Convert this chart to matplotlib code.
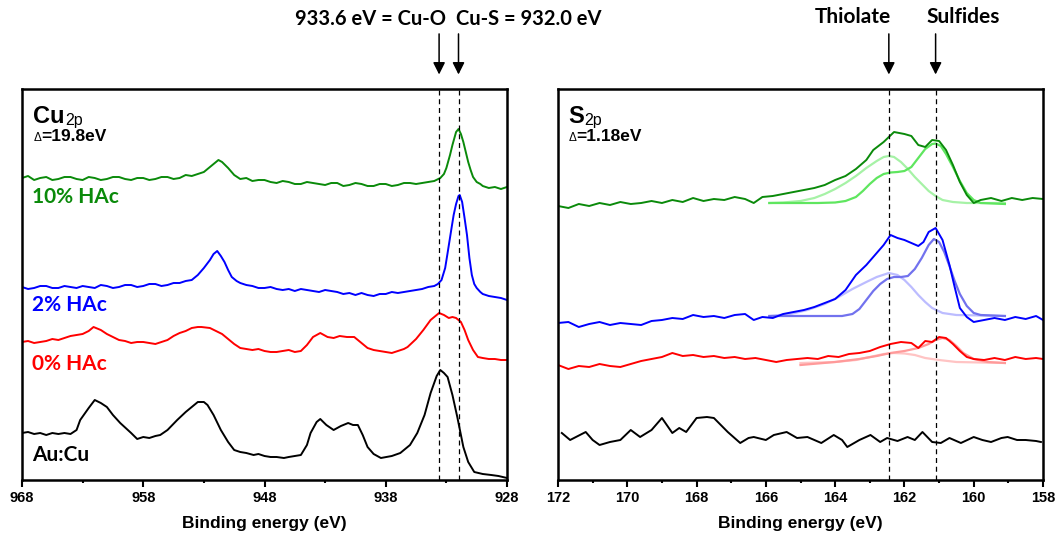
import matplotlib.pyplot as plt
from matplotlib.ticker import FixedLocator
import numpy as np

# ---- Cu 2p spectra (binding energy in eV, intensity in arb. units) ----
cu_e_10 = [968, 967.5, 967, 966.5, 966, 965.5, 965, 964.5, 964, 963.5, 963, 962.5, 962, 961.5, 961, 960.5, 960,
           959.5, 959, 958.5, 958, 957.5, 957, 956.5, 956, 955.5, 955, 954.5, 954, 953.5, 953, 952.5, 952, 951.8,
           951.5, 951, 950.5, 950, 949.5, 949, 948.5, 948, 947.5, 947, 946.5, 946, 945.5, 945, 944.5, 944, 943.5,
           943, 942.5, 942, 941.5, 941, 940.5, 940, 939.5, 939, 938.5, 938, 937.5, 937, 936.5, 936, 935.5, 935,
           934.5, 934, 933.5, 933.2, 933, 932.7, 932.5, 932.2, 932.0, 931.8, 931.6, 931.4, 931.2, 931, 930.8,
           930.5, 930.2, 930, 929.5, 929, 928.5, 928]
cu_i_10 = [302, 304, 300, 302, 303, 300, 301, 303, 303, 301, 300, 303, 302, 300, 301, 303, 303,
           301, 300, 302, 302, 300, 301, 303, 303, 301, 302, 305, 304, 306, 308, 313, 318, 320,
           318, 312, 305, 301, 302, 299, 300, 300, 298, 297, 299, 298, 296, 296, 298, 297, 296,
           295, 297, 297, 294, 295, 297, 296, 294, 294, 296, 296, 294, 295, 297, 297, 296, 297,
           298, 299, 302, 306, 312, 325, 335, 348, 351, 346, 338, 328, 318, 310, 303,
           298, 296, 294, 292, 293, 291, 293]

cu_e_2 = [968, 967.5, 967, 966.5, 966, 965.5, 965, 964.5, 964, 963.5, 963, 962.5, 962, 961.5, 961, 960.5, 960,
          959.5, 959, 958.5, 958, 957.5, 957, 956.5, 956, 955.5, 955, 954.5, 954, 953.5, 953, 952.5, 952.2, 951.9,
          951.6, 951.3, 951, 950.7, 950.3, 950, 949.5, 949, 948.5, 948, 947.5, 947, 946.5, 946, 945.5, 945, 944.5,
          944, 943.5, 943, 942.5, 942, 941.5, 941, 940.5, 940, 939.5, 939, 938.5, 938, 937.5, 937, 936.5, 936,
          935.5, 935, 934.5, 934, 933.7, 933.4, 933.1, 932.9, 932.6, 932.4, 932.2, 932.0, 931.9, 931.7, 931.5,
          931.3, 931.1, 930.9, 930.7, 930.5, 930.2, 930, 929.5, 929, 928.5, 928]
cu_i_2 = [193, 191, 192, 194, 194, 192, 192, 194, 193, 192, 194, 193, 192, 195, 194, 192, 193,
          195, 195, 193, 194, 196, 196, 194, 195, 197, 197, 199, 200, 205, 212, 220, 226, 229,
          224, 218, 210, 203, 199, 197, 195, 194, 192, 192, 193, 191, 190, 191, 189, 191, 190,
          189, 188, 190, 189, 188, 186, 187, 185, 187, 185, 184, 186, 186, 188, 187, 188, 189,
          190, 191, 193, 194, 196, 200, 212, 227, 250, 265, 276, 284, 285, 278, 262,
          245, 222, 205, 196, 192, 188, 186, 184, 183, 182, 180]

cu_e_0 = [968, 967.5, 967, 966.5, 966, 965.5, 965, 964.5, 964, 963.5, 963, 962.5, 962.1, 961.5, 961, 960.5, 960,
          959.5, 959, 958.5, 958, 957.5, 957, 956.5, 956, 955.5, 955, 954.5, 954, 953.5, 953.2, 952.5, 952, 951.5,
          951.1, 950.5, 950, 949.5, 949, 948.5, 948, 947.5, 947, 946.5, 946, 945.5, 945, 944.5, 944, 943.4, 942.8,
          942.3, 941.8, 941.2, 940.6, 940.1, 939.5, 939, 938.5, 938, 937.5, 937, 936.5, 936.2, 935.5, 934.9, 934.3,
          933.6, 933.2, 932.8, 932.5, 932.2, 931.8, 931.5, 931.2, 930.8, 930.4, 930, 929.5, 929, 928.5, 928]
cu_i_0 = [138, 139, 137, 138, 139, 141, 140, 142, 144, 145, 146, 149, 153, 150, 146, 143, 140,
          139, 137, 138, 138, 137, 136, 138, 140, 144, 147, 149, 152, 153, 153, 152, 149, 146,
          142, 136, 132, 131, 130, 131, 129, 128, 128, 129, 130, 128, 129, 135, 143, 147, 143,
          142, 144, 143, 143, 138, 132, 130, 129, 128, 127, 129, 131, 133, 141, 150, 160,
          167, 165, 162, 163, 162, 158, 150, 140, 130, 123, 122, 121, 121, 120, 120]

cu_e_au = [968, 967.5, 967, 966.5, 966, 965.5, 965, 964.5, 964, 963.5, 963.2, 962.5, 962, 961.5, 961, 960.5, 959.9,
           959, 958.5, 958, 957.5, 957, 956.6, 956, 955.2, 954.5, 953.5, 953, 952.7, 952.2, 951.6, 951, 950.5,
           950, 949.5, 948.9, 948.5, 948, 947.5, 947, 946.4, 946, 945.5, 945, 944.5, 944.2, 943.7, 943.4, 942.9,
           942.3, 941.7, 941.1, 940.7, 940.3, 939.9, 939.5, 939, 938.4, 937.5, 936.8, 936, 935.4, 934.8, 934.3,
           933.8, 933.5, 933.2, 932.9, 932.5, 932.1, 931.6, 931.2, 930.7, 930, 929.3, 928.7, 928]
cu_i_au = [47, 48, 46, 47, 45, 47, 46, 47, 46, 50, 60, 72, 80, 77, 73, 65, 57,
           47, 41, 43, 42, 44, 45, 50, 60, 68, 78, 78, 75, 65, 50, 38, 30,
           28, 27, 25, 26, 24, 23, 23, 22, 23, 24, 25, 35, 47, 58, 61, 55,
           50, 54, 57, 55, 55, 45, 33, 26, 22, 24, 27, 35, 47, 65, 87,
           104, 110, 107, 103, 85, 63, 33, 18, 8, 6, 5, 4, 2]

# ---- S 2p spectra ----
s_e_10 = [172.0, 171.7, 171.4, 171.1, 170.8, 170.5, 170.2, 169.9, 169.6, 169.3, 169.0, 168.7, 168.4, 168.1, 167.8,
          167.5, 167.2, 166.9, 166.6, 166.35, 166.1, 165.8, 165.5, 165.2, 164.9, 164.6, 164.3, 164.0, 163.7, 163.4,
          163.1, 162.9, 162.6, 162.3, 162.0, 161.8, 161.6, 161.4, 161.2, 161.0, 160.8, 160.6, 160.4, 160.2, 160.0,
          159.8, 159.5, 159.2, 158.9, 158.6, 158.3, 158.0]
s_i_10 = [274, 272, 276, 274, 277, 275, 278, 276, 277, 279, 277, 280, 278, 282, 279,
          281, 280, 283, 281, 277, 283, 284, 286, 288, 290, 292, 295, 300, 304, 311,
          320, 330, 338, 348, 346, 344, 335, 333, 340, 339, 330, 315, 298, 285, 277,
          280, 282, 279, 282, 280, 282, 281]

s_e_2 = [172.0, 171.7, 171.4, 171.1, 170.8, 170.5, 170.2, 169.9, 169.6, 169.3, 169.0, 168.7, 168.4, 168.1, 167.8,
         167.5, 167.2, 166.9, 166.6, 166.35, 166.1, 165.8, 165.5, 165.2, 164.9, 164.6, 164.3, 164.0, 163.7, 163.4,
         163.1, 162.85, 162.6, 162.4, 162.2, 162.0, 161.8, 161.6, 161.45, 161.3, 161.1, 160.9, 160.7, 160.55, 160.4,
         160.2, 160.0, 159.7, 159.4, 159.1, 158.8, 158.5, 158.2, 158.0]
s_i_2 = [157, 158, 153, 156, 158, 155, 157, 156, 155, 159, 160, 162, 161, 165, 163,
         164, 162, 165, 166, 160, 163, 162, 166, 168, 170, 173, 177, 181, 190, 205,
         215, 225, 235, 245, 242, 240, 237, 234, 238, 248, 252, 240, 215, 193, 172,
         163, 158, 160, 162, 160, 163, 161, 164, 160]

s_e_0 = [172.0, 171.7, 171.4, 171.1, 170.8, 170.5, 170.2, 169.9, 169.6, 169.3, 169.0, 168.7, 168.4, 168.1, 167.8,
         167.5, 167.2, 166.9, 166.6, 166.3, 166.0, 165.7, 165.4, 165.1, 164.8, 164.5, 164.2, 163.9, 163.6, 163.3,
         163.0, 162.7, 162.4, 162.1, 161.8, 161.6, 161.4, 161.2, 161.0, 160.8, 160.6, 160.4, 160.2, 160.0, 159.7,
         159.4, 159.1, 158.8, 158.5, 158.2, 158.0]
s_i_0 = [115, 111, 114, 113, 116, 114, 113, 116, 119, 121, 123, 127, 124, 125, 123,
         124, 122, 123, 121, 122, 120, 118, 120, 121, 122, 121, 124, 123, 126, 127,
         129, 133, 136, 138, 137, 132, 139, 138, 143, 142, 136, 129, 123, 121, 120,
         122, 120, 123, 121, 122, 121]

s_e_au = [171.89, 171.65, 171.2, 171.0, 170.8, 170.5, 170.2, 169.9, 169.63, 169.3, 169.0, 168.7, 168.5, 168.3, 168.0,
          167.7, 167.5, 167.3, 167.1, 166.74, 166.5, 166.35, 166.0, 165.77, 165.4, 165.1, 164.8, 164.4, 164.04,
          163.8, 163.65, 163.3, 162.98, 162.7, 162.5, 162.2, 161.91, 161.7, 161.48, 161.2, 160.95, 160.7, 160.37,
          160.0, 159.75, 159.5, 159.2, 159.02, 158.75, 158.5, 158.2, 158.06]
s_i_au = [47, 40, 48, 40, 35, 38, 40, 50, 43, 50, 62, 47, 52, 48, 62,
          63, 62, 55, 48, 37, 42, 43, 40, 45, 48, 42, 43, 37, 45,
          40, 33, 40, 45, 38, 42, 39, 43, 40, 48, 38, 37, 42, 37,
          43, 40, 38, 42, 43, 40, 40, 39, 38]

# fitted components (A = thiolate, B = sulfide)
fit_e_10a = [165.9, 165.5, 165.0, 164.6, 164.3, 164.0, 163.7, 163.4, 163.1, 162.8, 162.6, 162.45, 162.3, 162.1,
             161.9, 161.7, 161.5, 161.3, 161.1, 160.9, 160.6, 160.2, 159.1]
fit_i_10a = [277, 277.5, 279, 282, 286, 291, 297, 304, 312, 319, 323, 324, 323, 318,
             311, 303, 296, 289, 284, 280, 278, 277, 277]
fit_e_10b = [165.9, 164.5, 164.0, 163.7, 163.4, 163.2, 163.0, 162.8, 162.6, 162.4, 162.2, 162.0, 161.8, 161.6,
             161.4, 161.2, 161.1, 160.95, 160.8, 160.6, 160.4, 160.2, 160.0, 159.8, 159.1]
fit_i_10b = [277, 277, 277.5, 279, 283, 289, 296, 302, 306, 307.5, 308, 309, 313, 322,
             331, 336, 336.5, 334, 326, 313, 299, 287, 280, 277, 276]

fit_e_2a = [165.9, 165.3, 164.8, 164.3, 163.9, 163.5, 163.1, 162.8, 162.45, 162.2, 162.0, 161.8, 161.6, 161.4,
            161.2, 160.9, 160.5, 159.1]
fit_i_2a = [164, 166, 170, 176, 183, 191, 198, 203, 207, 205, 200, 193, 185, 178,
            172, 167, 165, 164]
fit_e_2b = [165.9, 163.8, 163.5, 163.3, 163.1, 162.9, 162.7, 162.5, 162.3, 162.1, 161.9, 161.7, 161.5, 161.3,
            161.15, 161.0, 160.85, 160.7, 160.55, 160.4, 160.2, 160.0, 159.8, 159.1]
fit_i_2b = [164, 164, 166, 171, 180, 189, 196, 201, 203, 203, 204, 211, 222, 235,
            241, 238, 228, 214, 199, 186, 174, 167, 165, 164]

fit_e_0a = [165.0, 164.0, 163.4, 163.0, 162.6, 162.3, 162.0, 161.7, 161.4, 161.0, 160.5, 159.1]
fit_i_0a = [117, 118, 120, 123, 126, 127, 126.5, 125, 122, 120, 118, 117]
fit_e_0b = [165.0, 164.0, 163.3, 162.8, 162.4, 162.0, 161.6, 161.3, 161.1, 160.9, 160.7, 160.5, 160.3, 160.0,
            159.6, 159.1]
fit_i_0b = [115, 118, 121, 124, 127, 129, 132, 136, 140, 142, 140, 134, 127, 121,
            118, 117]

cu_marks = [933.6, 932.0]
s_marks = [162.45, 161.1]

cu_ticks = [968, 958, 948, 938, 928]
cu_minor = [963, 953, 943, 933]
s_ticks = [172, 170, 168, 166, 164, 162, 160, 158]
s_minor = [171, 169, 167, 165, 163, 161, 159]

sample_labels = ["10% HAc", "2% HAc", "0% HAc", "Au:Cu"]
sample_colors = ["#0a8a0a", "#0000ff", "#ff0000", "black"]
label_y = [283, 175, 116, 25]

arial = "Liberation Sans"
calib = "Lato"

fig = plt.figure(figsize=(10.55, 5.4), dpi=100)
ax1 = fig.add_axes([22 / 1055, 60 / 540, 485 / 1055, 391 / 540])
ax2 = fig.add_axes([558 / 1055, 60 / 540, 485 / 1055, 391 / 540])

lw = 1.4
ax1.plot(cu_e_10, cu_i_10, color=sample_colors[0], lw=lw)
ax1.plot(cu_e_2, cu_i_2, color=sample_colors[1], lw=lw)
ax1.plot(cu_e_0, cu_i_0, color=sample_colors[2], lw=lw)
ax1.plot(cu_e_au, cu_i_au, color=sample_colors[3], lw=lw)

ax2.plot(fit_e_10a, fit_i_10a, color="#a6f2a6", lw=1.6)
ax2.plot(fit_e_10b, fit_i_10b, color="#5fe65f", lw=1.6)
ax2.plot(fit_e_2a, fit_i_2a, color="#bcbcff", lw=1.6)
ax2.plot(fit_e_2b, fit_i_2b, color="#7272ee", lw=1.6)
ax2.plot(fit_e_0a, fit_i_0a, color="#ffc4c4", lw=1.6)
ax2.plot(fit_e_0b, fit_i_0b, color="#ff9a9a", lw=1.6)
ax2.plot(s_e_10, s_i_10, color=sample_colors[0], lw=lw)
ax2.plot(s_e_2, s_i_2, color=sample_colors[1], lw=lw)
ax2.plot(s_e_0, s_i_0, color=sample_colors[2], lw=lw)
ax2.plot(s_e_au, s_i_au, color=sample_colors[3], lw=lw)

for ax, lim, ticks, minor, marks in [(ax1, (968, 928), cu_ticks, cu_minor, cu_marks),
                                     (ax2, (172, 158), s_ticks, s_minor, s_marks)]:
    ax.set_xlim(*lim)
    ax.set_ylim(0, 391)
    ax.set_yticks([])
    ax.xaxis.set_major_locator(FixedLocator(ticks))
    ax.xaxis.set_minor_locator(FixedLocator(minor))
    ax.tick_params(axis="x", which="major", direction="out", length=5, width=1.5, pad=3)
    ax.tick_params(axis="x", which="minor", direction="out", length=2.5, width=1.5)
    for lab in ax.get_xticklabels():
        lab.set_fontfamily(arial)
        lab.set_fontweight("bold")
        lab.set_fontsize(10.5)
    for sp in ax.spines.values():
        sp.set_linewidth(1.8)
    ax.set_xlabel("Binding energy (eV)", fontfamily=arial, fontweight="bold", fontsize=12.5, labelpad=8)
    for m in marks:
        ax.axvline(m, color="black", lw=0.9, linestyle=(0, (4, 3)))
        ax.annotate("", xy=(m, 1.03), xycoords=("data", "axes fraction"),
                    xytext=(m, 1.148), textcoords=("data", "axes fraction"),
                    arrowprops=dict(arrowstyle="-|>", color="black", lw=1.1, mutation_scale=18),
                    annotation_clip=False)

# sample labels on Cu panel
for name, col, y in zip(sample_labels, sample_colors, label_y):
    ax1.text(0.021, y, name, color=col, transform=ax1.get_yaxis_transform(),
             fontfamily=calib, fontweight="bold", fontsize=15, va="center", ha="left")

# panel titles
for ax, big, delta, x0 in [(ax1, "Cu", "19.8eV", 0.023), (ax2, "S", "1.18eV", 0.021)]:
    t = ax.text(x0, 0.913, big, transform=ax.transAxes, fontfamily=arial, fontweight="bold",
                fontsize=17, va="baseline")
    ax.annotate("2p", xy=(1, 0), xycoords=t, xytext=(0.5, 0), textcoords="offset points",
                fontfamily=arial, fontsize=11.5, va="bottom", ha="left")
    d = ax.text(x0, 0.866, "\u0394", transform=ax.transAxes, fontfamily=arial, fontsize=8.5, va="baseline")
    ax.annotate("=" + delta, xy=(1, 0), xycoords=d, xytext=(0, 0), textcoords="offset points",
                fontfamily=arial, fontweight="bold", fontsize=12.5, va="bottom", ha="left")

# annotations above the panels
ax1.text(933.05, 1.178, "933.6 eV = Cu-O", transform=ax1.get_xaxis_transform(), ha="right", va="center",
         fontfamily=calib, fontweight="bold", fontsize=14.5)
ax1.text(932.2, 1.178, "Cu-S = 932.0 eV", transform=ax1.get_xaxis_transform(), ha="left", va="center",
         fontfamily=calib, fontweight="bold", fontsize=14.5)
ax2.text(163.5, 1.185, "Thiolate", transform=ax2.get_xaxis_transform(), ha="center", va="center",
         fontfamily=calib, fontweight="bold", fontsize=15)
ax2.text(160.3, 1.185, "Sulfides", transform=ax2.get_xaxis_transform(), ha="center", va="center",
         fontfamily=calib, fontweight="bold", fontsize=15)

plt.savefig("out.png", dpi=100)
